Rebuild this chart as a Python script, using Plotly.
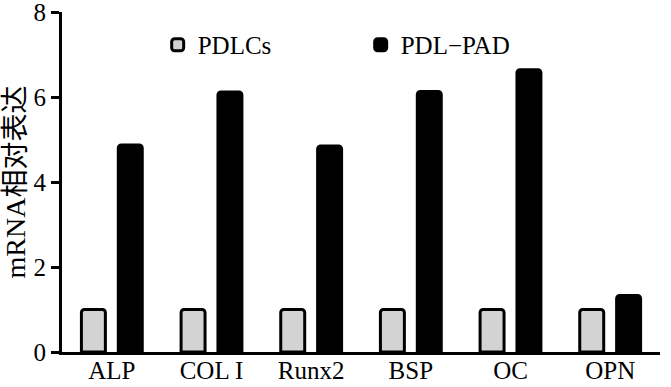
import plotly.graph_objects as go

categories = ["ALP", "COL I", "Runx2", "BSP", "OC", "OPN"]
pdlcs = [1.0, 1.0, 1.0, 1.0, 1.0, 1.0]
pdl_pad = [4.87, 6.12, 4.85, 6.13, 6.64, 1.33]
y_ticks = [0, 2, 4, 6, 8]

FONT = "Liberation Serif, Times New Roman, Noto Sans CJK SC, serif"

fig = go.Figure()
fig.add_trace(go.Bar(
    x=categories, y=pdlcs, name="PDLCs",
    marker=dict(color="#d3d3d3", line=dict(color="black", width=3), cornerradius=3),
))
fig.add_trace(go.Bar(
    x=categories, y=pdl_pad, name="PDL\u2212PAD",
    marker=dict(color="black", line=dict(color="black", width=3), cornerradius=3),
))

fig.update_layout(
    width=671, height=387,
    margin=dict(l=62, r=11, t=12, b=35),
    paper_bgcolor="white", plot_bgcolor="white",
    barmode="group", bargap=0.26, bargroupgap=0.35,
    font=dict(family=FONT, color="black", size=25),
    showlegend=True,
    legend=dict(
        orientation="h", x=0.16, y=0.903, xanchor="left", yanchor="middle",
        font=dict(family=FONT, size=25, color="black"),
        entrywidth=158, entrywidthmode="pixels",
        bgcolor="rgba(0,0,0,0)",
    ),
    xaxis=dict(
        showline=True, linecolor="black", linewidth=3,
        ticks="", tickfont=dict(family=FONT, size=25, color="black"),
        range=[-0.5, 5.5], showgrid=False, zeroline=False, automargin=False,
        ticklabeloverflow="allow", ticklabelstandoff=-6,
    ),
    yaxis=dict(
        range=[0, 8], tickvals=y_ticks, showline=True, linecolor="black",
        linewidth=3, ticks="outside", ticklen=8, tickwidth=3, tickcolor="black",
        tickfont=dict(family=FONT, size=25, color="black"),
        showgrid=False, zeroline=False, automargin=False,
        ticklabeloverflow="allow",
        title=dict(text="mRNA相对表达", font=dict(family=FONT, size=28, color="black"), standoff=5),
    ),
)

fig.write_html("out.html", config={"displayModeBar": False},
               post_script="document.body.style.margin='0';document.body.style.padding='0';")
